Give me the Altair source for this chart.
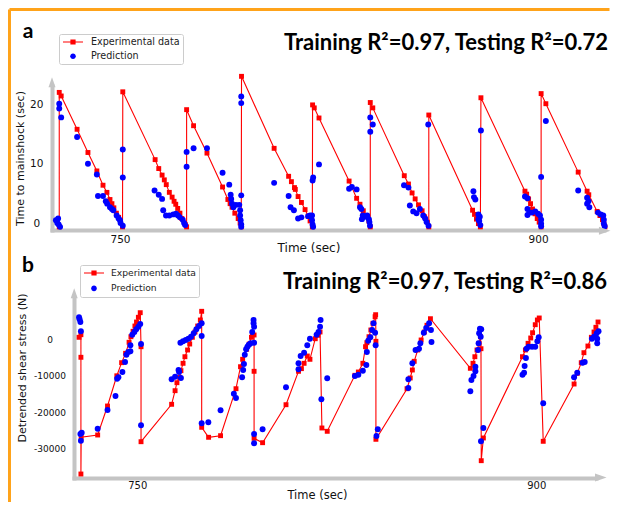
import altair as alt
import pandas as pd

# ---------------- data ----------------
series = ["Experimental data", "Prediction"]
title_a = "Training R²=0.97, Testing R²=0.72"
title_b = "Training R²=0.97, Testing R²=0.86"

a_exp_t = [728.2, 728.2, 728.9, 734.6, 738.5, 741.7, 743.9, 745.3, 746.4, 747.1, 747.8, 748.7, 749.5, 750.2, 750.9,
           751.0, 762.6, 763.9, 765.1, 765.9, 766.6, 767.7, 768.7, 769.4, 770.0, 770.7, 771.5, 772.2, 773.4, 773.9,
           773.9, 776.4, 781.2, 786.8, 788.7, 789.5, 790.2, 791.2, 792.4, 793.1, 793.5,
           793.6, 805.3, 810.5, 811.5, 812.6, 812.9, 813.9, 815.1, 816.4, 817.5, 818.2, 819.0,
           819.1, 819.7, 821.4, 832.2, 834.9, 836.1, 837.3, 838.3, 839.3, 839.8,
           839.8, 840.7, 852.0, 853.5, 854.8, 855.9, 857.1, 858.4, 859.3, 860.3, 860.8,
           860.8, 876.5, 877.2, 877.9, 878.6, 879.3,
           879.5, 895.3, 895.9, 896.6, 897.3, 898.0, 898.9, 899.7, 900.4, 901.1,
           901.1, 902.8, 914.4, 917.6, 918.2, 921.2, 922.2, 923.1, 923.6, 924.0]
a_exp_v = [-0.6, 22.0, 21.4, 15.8, 11.9, 8.8, 6.4, 5.2, 4.0, 3.3, 2.6, 1.7, 1.0, 0.2, -0.6,
           22.1, 10.7, 9.2, 8.1, 7.3, 6.5, 5.2, 4.4, 3.7, 3.2, 2.5, 1.7, 0.8, -0.2, -0.6,
           19.1, 16.4, 11.8, 6.1, 4.0, 3.3, 2.7, 1.7, 0.8, 0.05, -0.6,
           24.7, 12.6, 7.9, 7.0, 6.0, 5.7, 4.5, 3.5, 2.3, 1.2, 0.4, -0.6,
           19.9, 19.4, 17.7, 7.1, 4.2, 3.2, 2.1, 1.2, 0.4, -0.6,
           20.3, 19.4, 8.0, 6.6, 5.1, 4.1, 3.1, 2.1, 1.1, 0.2, -0.6,
           18.2, 2.2, 1.5, 0.7, -0.05, -0.6,
           21.1, 5.4, 4.9, 4.1, 3.3, 2.4, 1.6, 0.8, 0.2, -0.6,
           21.8, 20.1, 8.6, 5.4, 4.8, 2.0, 1.3, 0.6, -0.05, -0.6]

a_pred_t = [727.0, 727.5, 728.0, 728.5, 727.8, 728.2, 728.2, 728.9, 734.6, 738.5, 741.7, 742.1, 743.9, 744.9, 745.4,
            746.4, 747.1, 747.6, 748.8, 749.5, 750.0, 750.2, 751.0, 751.0, 751.0, 762.4, 763.9, 765.1, 765.5, 766.5,
            767.7, 769.1, 770.1, 770.8, 771.5, 772.5, 773.0, 773.4, 773.9, 773.9, 776.4, 781.2, 786.8, 789.2, 789.7,
            789.9, 790.2, 790.7, 791.6, 792.8, 793.1, 793.1, 793.3, 793.5, 793.5, 793.5, 793.5, 793.5, 805.3, 810.5,
            811.2, 812.4, 813.9, 815.1, 817.5, 818.2, 818.9, 818.9, 819.1, 819.3, 819.1, 819.3, 821.4, 832.2, 833.2,
            834.9, 836.1, 836.6, 837.1, 836.8, 837.8, 838.7, 839.3, 839.5, 839.7, 839.8, 840.7, 839.8, 851.9, 853.5,
            854.0, 855.2, 856.4, 857.6, 858.8, 859.5, 860.0, 860.7, 860.6, 876.8, 877.0, 877.5, 878.6, 879.1, 878.9,
            879.3, 878.6, 879.5, 895.3, 896.2, 896.2, 896.9, 896.2, 897.8, 899.0, 900.0, 900.7, 901.1, 901.1, 901.1,
            901.1, 902.8, 914.4, 917.6, 918.1, 917.6, 918.4, 921.5, 922.5, 923.4, 923.6, 923.6, 923.9]
a_pred_v = [0.5, 0.05, -0.2, -0.6, 0.8, 20.1, 19.3, 17.8, 14.5, 10.0, 8.2, 4.6, 4.6, 3.7, 3.3,
            2.7, 2.4, 2.2, 1.3, 0.8, 0.5, 0.05, 12.4, 7.7, -0.4, 5.5, 4.8, 4.1, 2.2, 1.3,
            1.3, 1.5, 1.6, 1.3, 1.0, 0.6, 0.05, -0.3, 12.0, 9.5, 12.6, 12.6, 8.5, 6.5, 4.8,
            4.1, 3.3, 2.7, 3.1, 3.1, 2.2, 1.3, 0.5, -0.2, -0.6, 4.7, 21.3, 20.2, 6.8, 4.6,
            2.7, 2.2, 0.8, 1.0, 1.2, 1.3, 1.3, 0.5, -0.2, -0.6, 7.2, 7.7, 9.9, 5.8, 6.1,
            5.7, 2.7, 2.4, 1.3, 0.7, 1.1, 1.3, 0.7, 0.2, -0.4, 17.8, 16.6, 15.4, 6.4, 6.0,
            3.0, 2.0, 1.7, 2.4, 1.3, 0.8, 0.2, -0.4, 16.6, 5.4, 4.4, 4.0, 1.5, 1.1, 0.4,
            -0.3, 0.7, 15.6, 4.5, 4.2, 2.4, 1.8, 1.4, 1.8, 2.0, 1.6, 1.3, 0.6, -0.05, -0.5,
            7.8, 17.2, 5.5, 4.3, 3.7, 3.3, 2.7, 1.8, 1.5, 1.3, 0.6, -0.05, -0.5]

b_exp_t = [728.1, 728.8, 728.8, 728.8, 728.9, 735.1, 738.8, 742.3, 744.1, 745.6, 746.9, 747.6, 748.4, 749.1, 749.7,
           750.4, 751.1, 751.4, 751.4, 762.9, 764.2, 764.9, 765.9, 766.4, 767.2, 767.9, 768.9, 769.7, 770.7, 771.7,
           772.7, 773.7, 774.2, 774.2, 776.8, 781.3, 787.1, 788.8, 789.6, 791.1, 792.1, 792.9, 793.3, 793.9, 793.9,
           793.9, 797.1, 805.9, 810.6, 811.7, 812.7, 813.9, 814.9, 816.9, 817.9, 818.7, 819.4, 821.4, 831.8, 833.1,
           834.8, 835.8, 836.3, 837.1, 837.8, 838.6, 839.4, 839.6, 839.7, 839.7, 851.4, 852.6, 853.4, 854.1, 855.4,
           856.7, 857.9, 858.9, 860.2, 875.2, 876.2, 876.9, 877.7, 878.5, 879.0, 879.2, 879.3, 880.1, 894.8, 895.9,
           896.9, 897.9, 898.6, 899.6, 900.4, 901.1, 902.6, 914.2, 915.4, 916.9, 917.9, 919.4, 920.7, 921.7, 922.4,
           923.2]
b_exp_v = [548, 1260, -4930, -36910, -26850, -26220, -18280, -10000, -6400, -3840, -820, 710, 2190, 3640, 4740,
           6030, 7290, -2030, -28060, -17810, -14080, -11890, -10410, -8600, -6580, -4770, -2930, -1290, 550, 2000,
           3640, 5290, 7670, -24110, -26850, -26410, -13540, -7510, -5480, -2740, -1290, 550, 1640, 1180, -8770,
           -27130, -28330, -17920, -8770, -8040, -6580, -4580, -5480, 160, 1100, 2000, -24300, -25210, -9870, -8960,
           -6580, -2030, -930, 710, 2550, 4380, 6190, 6740, -550, -27400, -13540, -10600, -8410, -6030, -2930,
           -190, 2000, 3840, 5640, -7950, -6580, -4770, -2930, -1100, 710, -2580, -33260, -27040, -4770, -2930,
           -1100, 360, 1800, 4000, 5290, 5840, -27950, -12250, -9320, -6410, -3670, -1840, 550, 2000, 3290,
           4740]

b_pred_t = [728.1, 728.3, 728.6, 728.8, 729.1, 728.6, 728.8, 735.1, 738.8, 741.8, 742.4, 742.9, 744.4, 745.4, 745.9,
            746.6, 747.4, 747.4, 748.1, 748.9, 749.6, 750.4, 751.1, 751.4, 751.4, 762.9, 764.2, 765.5, 765.7, 766.4,
            766.2, 767.2, 768.2, 769.2, 770.2, 771.2, 772.2, 773.2, 774.2, 774.2, 774.2, 776.7, 781.3, 786.3, 787.1,
            789.4, 789.8, 790.1, 790.4, 790.9, 791.4, 791.9, 792.6, 793.2, 793.7, 793.7, 793.9, 793.9, 793.9, 793.9,
            797.1, 805.9, 810.6, 810.6, 811.4, 812.7, 813.9, 814.9, 817.4, 818.1, 818.7, 818.9, 819.2, 821.4, 831.8,
            833.1, 834.8, 836.1, 836.3, 836.8, 837.6, 838.3, 838.8, 839.4, 839.6, 840.4, 839.9, 851.9, 851.9, 853.4,
            854.6, 855.9, 856.4, 857.7, 858.6, 859.7, 860.6, 860.4, 875.2, 875.6, 876.4, 877.1, 877.1, 878.1, 878.3,
            878.5, 878.8, 879.3, 879.1, 879.2, 880.1, 894.8, 895.4, 895.6, 896.1, 896.3, 897.1, 898.4, 899.6, 900.4,
            900.9, 902.6, 914.2, 915.4, 917.4, 918.2, 920.9, 921.7, 922.7, 922.9, 922.9, 923.4]
b_pred_v = [6030, 5480, 4740, 2190, -25590, -25950, -27780, -24500, -19370, -15540, -10800, -10410, -8960, -6220, -4220,
            -3480, -3290, -1640, 1260, 2000, 2740, 3450, 4190, -1290, -23560, -10960, -10250, -8410, -8960, -10600,
            -930, -550, -190, 160, 710, 1640, 2740, 3640, 4380, 900, -23020, -22740, -19450, -14900, -16080,
            -10410, -8410, -6770, -4220, -2740, -2030, -1480, -1100, 2000, 5290, 4380, 3450, -930, -25950, -28500,
            -24660, -13150, -6580, -8220, -4580, -3670, -1640, 160, 1260, 2000, 3450, 5290, -16440, -10690, -10060,
            -9700, -8600, -7040, -3480, -380, 550, 2550, 4380, 1800, -1640, -24660, -26500, -10960, -13340, -6580,
            -2930, -2580, -1100, 1800, 3100, 4380, -740, 2550, -14250, -11150, -10060, -8770, -7510, -2930, -1100,
            1640, 2900, 2740, 710, -27950, -24300, -9700, -9150, -7320, -5120, -2580, -2030, -2030, -2030, -550,
            550, -17540, -10410, -9150, -6410, -6220, 160, 710, 1640, 160, -1100, 2190]

a_xticks = [750, 900]
a_yticks = [0, 10, 20]
b_xticks = [750, 900]
b_yticks = [0, -10000, -20000, -30000]

# ---------------- styling ----------------
RED = "#ff0000"
BLUE = "#0000ff"
AXC = "#c4c4c4"
ORANGE = "#ffa31a"
FONT = "DejaVu Sans"
TFONT = "Lato"
# legend symbols (symbolSize 100 -> path units of 5 px)
LINE_SYM = ("M-2,-0.12L-0.52,-0.12L-0.52,-0.52L0.52,-0.52L0.52,-0.12L2,-0.12L2,0.12L0.52,0.12"
            "L0.52,0.52L-0.52,0.52L-0.52,0.12L-2,0.12Z")
DOT_SYM = "M0.56,0A0.56,0.56,0,1,1,-0.56,0A0.56,0.56,0,1,1,0.56,0Z"
ARROW_R = "M-1,-0.7L1,0L-1,0.7Z"
ARROW_U = "M-0.7,1L0,-1L0.7,1Z"

one = pd.DataFrame({"k": [0]})


def panel(exp_t, exp_v, pred_t, pred_v, width, height, xdom, ydom, xaxis, yaxis,
          leg_x, leg_y, leg_font, leg_lab_off, leg_row, title, title_x, title_y, letter, letter_x, letter_y,
          arr_x, arr_y, extra=None):
    exp = pd.DataFrame({"t": exp_t, "v": exp_v, "i": list(range(len(exp_t)))})
    pred = pd.DataFrame({"t": pred_t, "v": pred_v})
    leg = pd.DataFrame({"series": series})
    xs = alt.Scale(domain=xdom, nice=False, zero=False)
    ys = alt.Scale(domain=ydom, nice=False, zero=False)

    line = alt.Chart(exp).mark_line(color=RED, strokeWidth=1.1).encode(
        x=alt.X("t:Q", scale=xs, axis=xaxis),
        y=alt.Y("v:Q", scale=ys, axis=yaxis),
        order=alt.Order("i:Q"),
    )
    squares = alt.Chart(exp).mark_square(color=RED, size=24, opacity=1).encode(
        x="t:Q", y="v:Q")
    dots = alt.Chart(pred).mark_circle(color=BLUE, size=35, opacity=1).encode(
        x="t:Q", y="v:Q")

    lg = alt.Legend(title=None, orient="none", legendX=leg_x, legendY=leg_y,
                    labelFont=FONT, labelFontSize=leg_font, labelColor="#222222",
                    symbolSize=100, symbolStrokeWidth=0, symbolOpacity=1, symbolOffset=6,
                    fillColor="white", strokeColor="#cccccc", padding=3,
                    cornerRadius=2, rowPadding=leg_row, labelOffset=leg_lab_off)
    legend_layer = alt.Chart(leg).mark_point(filled=True, opacity=0).encode(
        color=alt.Color("series:N", scale=alt.Scale(domain=series, range=[RED, BLUE]), legend=lg),
        shape=alt.Shape("series:N", scale=alt.Scale(domain=series, range=[LINE_SYM, DOT_SYM]), legend=lg),
    )

    arrow_x = alt.Chart(one).mark_point(shape=ARROW_R, filled=True, color=AXC, size=134, opacity=1).encode(
        x=alt.value(arr_x[0]), y=alt.value(arr_x[1]))
    arrow_y = alt.Chart(one).mark_point(shape=ARROW_U, filled=True, color=AXC, size=100, opacity=1).encode(
        x=alt.value(arr_y[0]), y=alt.value(arr_y[1]))

    ttl = alt.Chart(pd.DataFrame({"s": [title]})).mark_text(
        font=TFONT, fontSize=22, fontWeight="bold", align="right", baseline="alphabetic", color="black"
    ).encode(text="s:N", x=alt.value(title_x), y=alt.value(title_y))
    let = alt.Chart(pd.DataFrame({"s": [letter]})).mark_text(
        font=TFONT, fontSize=21, fontWeight="bold", align="center", baseline="alphabetic", color="black"
    ).encode(text="s:N", x=alt.value(letter_x), y=alt.value(letter_y))

    layers = [line, squares, dots, legend_layer, arrow_x, arrow_y, ttl, let]
    if extra:
        layers += extra
    return alt.layer(*layers).properties(width=width, height=height)


# orange frame (decoration), drawn in panel a coordinates
frame_left = alt.Chart(one).mark_rule(color=ORANGE, strokeWidth=3).encode(
    x=alt.value(-42.5), y=alt.value(-76.5), y2=alt.value(416))
frame_top = alt.Chart(one).mark_rule(color=ORANGE, strokeWidth=3).encode(
    x=alt.value(-42.5), x2=alt.value(557.5), y=alt.value(-76.5))

axis_common = dict(ticks=False, tickSize=0, grid=False, domainColor=AXC, domainWidth=4,
                   domainCap="square", labelFont=FONT, titleFont=FONT, labelColor="#111111",
                   titleColor="#111111", titleFontWeight="normal")

a_xaxis = alt.Axis(values=a_xticks, title="Time (sec)", labelFontSize=10.5, labelPadding=4,
                   titleFontSize=12, titleX=256.5, titleY=12.5, **axis_common)
a_yaxis = alt.Axis(values=a_yticks, title="Time to mainshock (sec)", labelFontSize=10.5,
                   labelAlign="center", labelPadding=15.7, titleFontSize=11, titlePadding=4,
                   **axis_common)

b_xaxis = alt.Axis(values=b_xticks, title="Time (sec)", labelFontSize=10, labelPadding=2,
                   titleFontSize=11.5, titleX=243, titleY=11.6, **axis_common)
b_yaxis = alt.Axis(values=b_yticks, title="Detrended shear stress (N)", labelFontSize=9,
                   labelAlign="center", labelPadding=24.5, titleFontSize=11, titleX=-47, titleY=69.5,
                   labelExpr="datum.value < 0 ? '-' + format(-datum.value, 'd') : format(datum.value, 'd')",
                   **axis_common)

pa = panel(a_exp_t, a_exp_v, a_pred_t, a_pred_v, 552, 144, [725.60, 923.66], [-1.126, 23.076],
           a_xaxis, a_yaxis, 7, -52, 9.6, 13, 4.2, title_a, 556, -36, "a", -24, -48,
           (552.7, 144.8), (0, -3.7), extra=[frame_left, frame_top])

pb = panel(b_exp_t, b_exp_v, b_pred_t, b_pred_v, 522, 180, [726.20, 922.44], [-38004, 11316],
           b_xaxis, b_yaxis, 6, -33, 9.2, 12, 4.4, title_b, 533, -8.7, "b", -46, -26.5,
           (526.8, 179.5), (0.2, -4.7))

spacer = alt.Chart(one).mark_point(opacity=0).encode(
    x=alt.value(0), y=alt.value(0)).properties(width=22, height=180)

row_b = alt.hconcat(spacer, pb, spacing=0, bounds="flush").resolve_scale(
    color="independent", shape="independent")

chart = alt.vconcat(pa, row_b, spacing=68, bounds="flush").resolve_scale(
    color="independent", shape="independent"
).properties(padding=0, background="white").configure_view(stroke=None)

chart.save("out.html", embed_options={"renderer": "svg", "actions": False})
